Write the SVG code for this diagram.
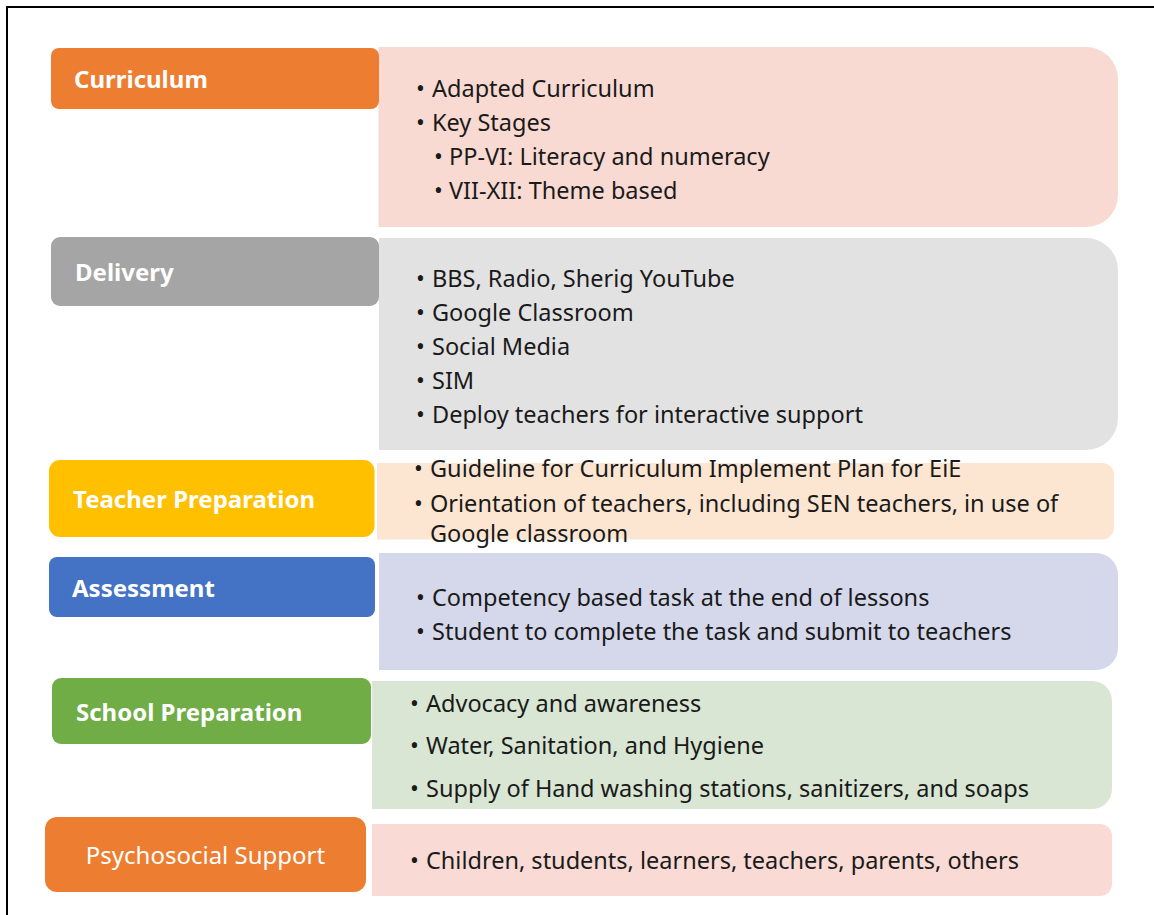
<svg xmlns="http://www.w3.org/2000/svg" width="1154" height="915" viewBox="0 0 1154 915">
<style>
.lbl{font-family:"Noto Sans","Liberation Sans",sans-serif;font-size:24px;font-weight:bold;fill:#ffffff}
.lblr{font-family:"Noto Sans","Liberation Sans",sans-serif;font-size:24px;fill:#ffffff}
.txt{font-family:"Noto Sans","Liberation Sans",sans-serif;font-size:23.5px;fill:#1a1a1a}
</style>
<rect width="1154" height="915" fill="#ffffff"/>
<path d="M7,915 V7 H1154" fill="none" stroke="#000000" stroke-width="2"/>

<g id="curriculum">
<path d="M378.5,47 H1086 A32,32 0 0 1 1118,79 V195 A32,32 0 0 1 1086,227 H378.5 Z" fill="#F9DAD2"/>
<rect x="51" y="48" width="328" height="61" rx="8" fill="#ED7D31"/>
<text class="lbl" x="74" y="88">Curriculum</text>
<text class="txt"><tspan x="416" y="97">•</tspan><tspan x="432" y="97">Adapted Curriculum</tspan><tspan x="416" y="131">•</tspan><tspan x="432" y="131">Key Stages</tspan><tspan x="434" y="165">•</tspan><tspan x="449" y="165">PP-VI: Literacy and numeracy</tspan><tspan x="434" y="199">•</tspan><tspan x="449" y="199">VII-XII: Theme based</tspan></text>
</g>

<g id="delivery">
<path d="M379,238 H1086 A32,32 0 0 1 1118,270 V418 A32,32 0 0 1 1086,450 H379 Z" fill="#E2E2E2"/>
<rect x="51" y="237" width="328" height="69" rx="9" fill="#A5A5A5"/>
<text class="lbl" x="75" y="281">Delivery</text>
<text class="txt"><tspan x="416" y="287">•</tspan><tspan x="432" y="287">BBS, Radio, Sherig YouTube</tspan><tspan x="416" y="321">•</tspan><tspan x="432" y="321">Google Classroom</tspan><tspan x="416" y="355">•</tspan><tspan x="432" y="355">Social Media</tspan><tspan x="416" y="389">•</tspan><tspan x="432" y="389">SIM</tspan><tspan x="416" y="423">•</tspan><tspan x="432" y="423">Deploy teachers for interactive support</tspan></text>
</g>

<g id="teacher-preparation">
<path d="M377,463 H1102 A12,12 0 0 1 1114,475 V527.5 A12,12 0 0 1 1102,539.5 H377 Z" fill="#FCE6D2"/>
<rect x="49" y="460" width="325.5" height="77" rx="11" fill="#FFC000"/>
<text class="lbl" x="73" y="508">Teacher Preparation</text>
<text class="txt"><tspan x="414" y="477">•</tspan><tspan x="430" y="477">Guideline for Curriculum Implement Plan for EiE</tspan><tspan x="414" y="512">•</tspan><tspan x="430" y="512">Orientation of teachers, including SEN teachers, in use of</tspan><tspan x="430" y="542">Google classroom</tspan></text>
</g>

<g id="assessment">
<path d="M379,553 H1096 A22,22 0 0 1 1118,575 V648 A22,22 0 0 1 1096,670 H379 Z" fill="#D4D8EA"/>
<rect x="49" y="557" width="326" height="60" rx="8" fill="#4472C4"/>
<text class="lbl" x="72" y="597">Assessment</text>
<text class="txt"><tspan x="416" y="606">•</tspan><tspan x="432" y="606">Competency based task at the end of lessons</tspan><tspan x="416" y="640">•</tspan><tspan x="432" y="640">Student to complete the task and submit to teachers</tspan></text>
</g>

<g id="school-preparation">
<path d="M372,681 H1092 A20,20 0 0 1 1112,701 V789 A20,20 0 0 1 1092,809 H372 Z" fill="#D8E6D3"/>
<rect x="52" y="678" width="319" height="66" rx="9" fill="#70AD47"/>
<text class="lbl" x="76" y="721">School Preparation</text>
<text class="txt"><tspan x="410" y="712">•</tspan><tspan x="426" y="712">Advocacy and awareness</tspan><tspan x="410" y="754">•</tspan><tspan x="426" y="754">Water, Sanitation, and Hygiene</tspan><tspan x="410" y="797">•</tspan><tspan x="426" y="797">Supply of Hand washing stations, sanitizers, and soaps</tspan></text>
</g>

<g id="psychosocial-support">
<path d="M372,824 H1100 A12,12 0 0 1 1112,836 V884 A12,12 0 0 1 1100,896 H372 Z" fill="#F9DAD4"/>
<rect x="45" y="817" width="321" height="75" rx="12" fill="#ED7D31"/>
<text class="lblr" x="205.5" y="864" text-anchor="middle">Psychosocial Support</text>
<text class="txt"><tspan x="410" y="869">•</tspan><tspan x="426" y="869">Children, students, learners, teachers, parents, others</tspan></text>
</g>

<g id="connectors"></g>
</svg>
